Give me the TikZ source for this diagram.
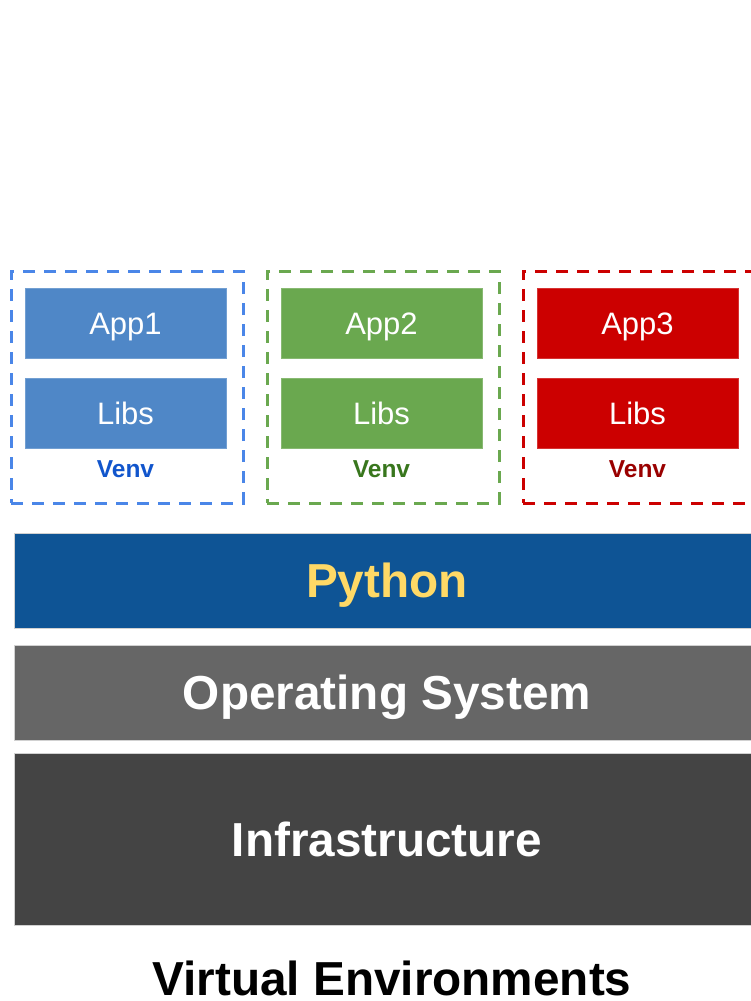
\documentclass[tikz,border=0pt]{standalone}
\usepackage{fontspec}
\setmainfont{Liberation Sans}
\definecolor{appblue}{HTML}{4F87C7}
\definecolor{venvblue}{HTML}{4A86E8}
\definecolor{labelblue}{HTML}{1155CC}
\definecolor{appgreen}{HTML}{6AA84F}
\definecolor{labelgreen}{HTML}{38761D}
\definecolor{appred}{HTML}{CC0000}
\definecolor{labelred}{HTML}{990000}
\definecolor{pybar}{HTML}{0E5495}
\definecolor{pytext}{HTML}{FFD966}
\definecolor{osbar}{HTML}{666666}
\definecolor{infrabar}{HTML}{444444}
\tikzset{
  appbox/.style={fill=#1, draw=#1!80!white, line width=0.8pt, minimum width=201pt,
    minimum height=70pt, inner sep=0pt, text=white, text height=22.2pt, text depth=0pt,
    font=\fontsize{31}{31}\selectfont},
  venvbox/.style={draw=#1, line width=3pt, dash pattern=on 12pt off 9pt,
    minimum width=232pt, minimum height=232pt, inner sep=0pt},
  venvlabel/.style={text=#1, font=\fontsize{24.5}{24.5}\selectfont\bfseries,
    inner sep=0pt, text height=17.5pt, text depth=0pt},
  layer/.style={fill=#1, draw=black!18, line width=0.8pt, minimum width=746pt,
    inner sep=0pt, text=white, text height=34.2pt, text depth=0pt,
    font=\fontsize{47.7}{47.7}\selectfont\bfseries},
}
\begin{document}
\begin{tikzpicture}[x=1pt, y=-1pt]
  \useasboundingbox (0,0) rectangle (751,1001);
  \clip (0,0) rectangle (751,1001);

  % virtual environment containers
  \node[venvbox=venvblue]  (v1) at (127,387) {};
  \node[venvbox=appgreen]  (v2) at (383,387) {};
  \node[venvbox=appred]    (v3) at (639,387) {};

  % applications and their libraries
  \node[appbox=appblue]  (app1)  at (125.5,323) {App1};
  \node[appbox=appblue]  (libs1) at (125.5,413) {Libs};
  \node[venvlabel=labelblue] (lab1) at (125.5,469) {Venv};

  \node[appbox=appgreen] (app2)  at (381.5,323) {App2};
  \node[appbox=appgreen] (libs2) at (381.5,413) {Libs};
  \node[venvlabel=labelgreen] (lab2) at (381.5,469) {Venv};

  \node[appbox=appred]   (app3)  at (637.5,323) {App3};
  \node[appbox=appred]   (libs3) at (637.5,413) {Libs};
  \node[venvlabel=labelred] (lab3) at (637.5,469) {Venv};

  % shared layers
  \node[layer=pybar, minimum height=95pt, text=pytext] (py) at (387,580.5) {Python};
  \node[layer=osbar, minimum height=95pt] (os) at (387,692.5) {Operating System};
  \node[layer=infrabar, minimum height=172pt] (infra) at (387,839) {Infrastructure};

  % caption
  \node[anchor=base, inner sep=0pt, font=\fontsize{47.7}{47.7}\selectfont\bfseries]
    (title) at (392,995) {Virtual Environments};
\end{tikzpicture}
\end{document}
